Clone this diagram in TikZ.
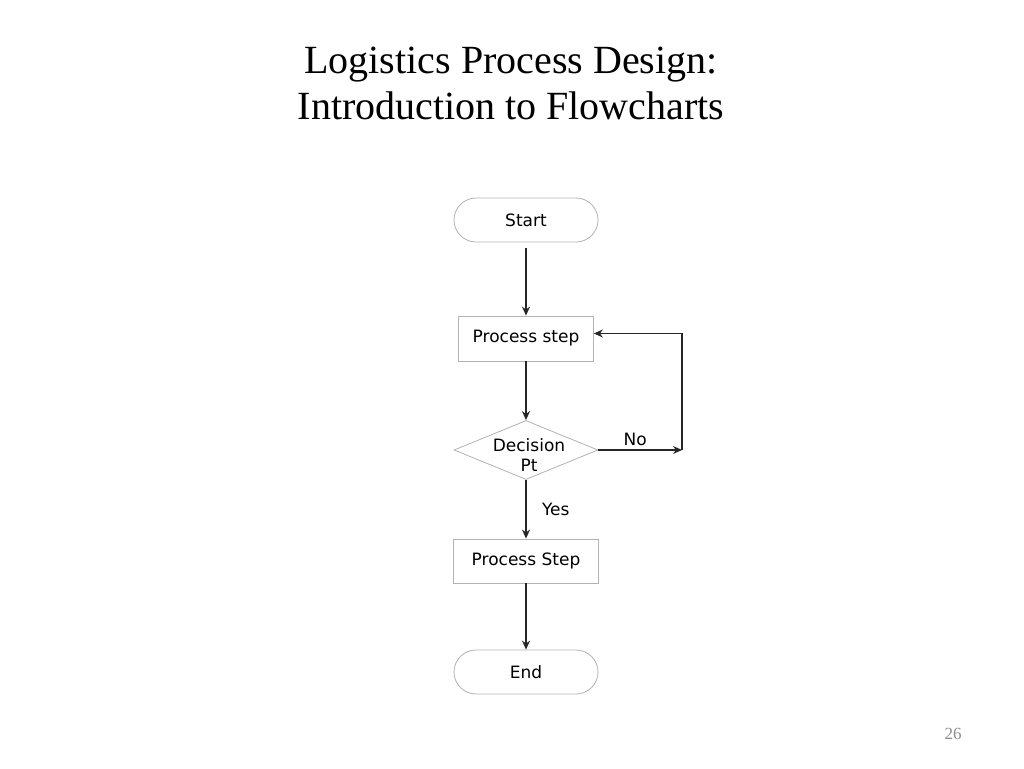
\documentclass[tikz,border=0pt]{standalone}
\usepackage{fontspec}
\setmainfont{Liberation Serif}
\newfontfamily\flowfont{DejaVu Sans}
\usetikzlibrary{positioning,shapes.geometric,arrows.meta}

\begin{document}
\begin{tikzpicture}[->, >={Stealth[length=9pt,width=8pt]}, x=1pt, y=1pt, auto,
    node distance=111pt, line width=1.4pt, draw=black!85,
    every node/.style={font=\flowfont\fontsize{17}{20}\selectfont, text=black},
    term/.style={draw=black!30, line width=0.8pt, rounded corners=22pt, minimum width=144pt, minimum height=44pt},
    proc/.style={draw=black!30, line width=0.8pt, minimum height=45pt},
    dec/.style={diamond, draw=black!30, line width=0.8pt, minimum width=144pt, minimum height=59pt, inner sep=0pt}]
      \useasboundingbox (0,0) rectangle (1024,-768);
      \node (title1) [anchor=base, font=\fontsize{40}{46}\selectfont] at (511,-73) {Logistics Process Design:};
      \node (title2) [anchor=base, font=\fontsize{40}{46}\selectfont] at (511,-119) {Introduction to Flowcharts};
      \node [term] (start) at (526,-220) {Start};
      \node [proc, minimum width=135pt] (proc1) [below of=start, node distance=118.5pt] {Process step};
      \node [dec, label={[align=center, xshift=3pt, yshift=-5pt]center:Decision\\Pt}] (dec) [below of=proc1, node distance=111.5pt] {};
      \node [proc, minimum width=145pt, minimum height=44pt] (proc2) [below of=dec] {Process Step};
      \node [term] (stop) [below of=proc2] {End};
      \coordinate [right of=dec, node distance=156pt] (turn);
      \path
      (start) edge [shorten <=6pt] (proc1)
      (proc1) edge (dec)
      (dec) edge node[right=12pt] {Yes} (proc2)
      (proc2) edge (stop)
      (dec) edge node[above, xshift=-5pt] {No} (turn)
      ;
      \draw (turn) |- ([yshift=5pt]proc1.east);
      \node (page) [font=\fontsize{17}{20}\selectfont, text=black!45] at (953,-734) {26};
  \end{tikzpicture}
\end{document}
